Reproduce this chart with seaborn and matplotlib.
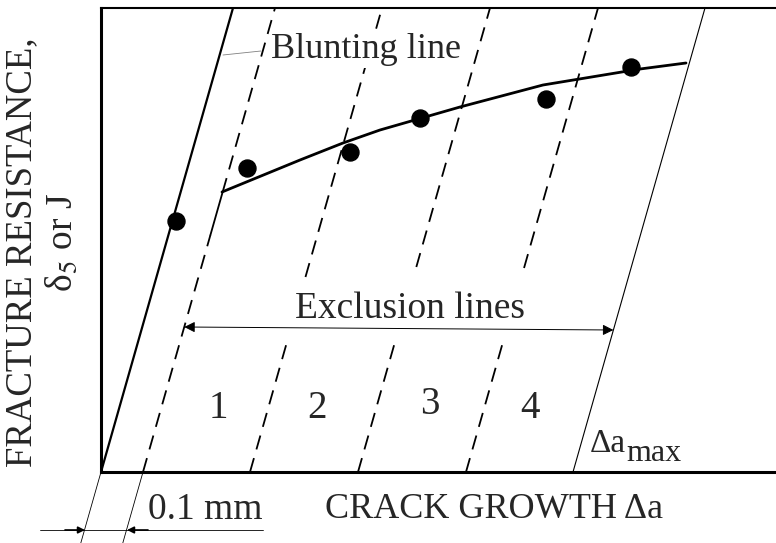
import numpy as np
import seaborn as sns
import matplotlib.pyplot as plt
import pandas as pd

# schematic units: x = crack growth, y = resistance (origin at axes corner)
slope = 132 / 464                     # blunting line dx/dy
excl_offsets = [42, 149, 257, 365]    # exclusion lines, offset along x
da_max = 472                          # last exclusion line (delta a max)

curve_x = [121, 199, 242, 279, 359, 442, 539, 585]
curve_y = [280, 312, 329, 342, 365, 387, 403, 409]

points_x = [75, 146, 249, 319, 445, 530]
points_y = [251, 304, 320, 354, 373, 405]

region_labels = ['1', '2', '3', '4']
region_x = [117, 216, 329, 429]
region_y = [64, 64, 67, 64]

sns.set_theme(style="white")
plt.rcParams['font.family'] = ['Liberation Serif', 'DejaVu Serif']
plt.rcParams['mathtext.fontset'] = 'stix'

fig = plt.figure(figsize=(7.76, 5.43), dpi=100)
ax = fig.add_axes([101/776, 71/543, 675/776, 464/543])
ax.set_xlim(0, 675)
ax.set_ylim(0, 464)

def lx(off, y):
    return off + slope * np.asarray(y)

# blunting line
yy = np.array([0, 464])
ax.plot(lx(0, yy), yy, color='black', lw=1.6, zorder=3)

dash = (0, (8, 5))
# first exclusion line (0.1 mm offset)
for y0, y1, ls in [(0, 237, dash), (237, 280, '-'), (280, 464, dash)]:
    yy = np.array([y0, y1])
    ax.plot(lx(excl_offsets[0], yy), yy, color='black', lw=1.3, linestyle=ls)

# other exclusion lines, broken around the label
for off, ytop in zip(excl_offsets[1:], [195, 205, 204]):
    for y0, y1 in [(0, 134), (ytop, 464)]:
        yy = np.array([y0, y1])
        ax.plot(lx(off, yy), yy, color='black', lw=1.3, linestyle=dash)

# delta a max line
yy = np.array([0, 464])
ax.plot(lx(da_max, yy), yy, color='black', lw=0.8)

# R-curve and data points
df_curve = pd.DataFrame({'x': curve_x, 'y': curve_y})
df_pts = pd.DataFrame({'x': points_x, 'y': points_y})
sns.lineplot(data=df_curve, x='x', y='y', sort=False, color='black', lw=2, ax=ax)
sns.scatterplot(data=df_pts, x='x', y='y', color='black', s=150, edgecolor='black', zorder=5, ax=ax)

# labels inside
ax.text(265, 422, 'Blunting line', fontsize=26, ha='center', va='center',
        bbox=dict(facecolor='white', edgecolor='none', pad=1), zorder=4)
ax.plot([122, 160], [417, 421], color='gray', lw=0.6)
ax.text(309, 163, 'Exclusion lines', fontsize=27, ha='center', va='center')
for lab, x, y in zip(region_labels, region_x, region_y):
    ax.text(x, y, lab, fontsize=28, ha='center', va='center')
ax.text(489, 20, 'Δa', fontsize=24, ha='left', va='baseline')
ax.text(525, 11, 'max', fontsize=23, ha='left', va='baseline')

# exclusion arrow
ax.annotate('', xy=(lx(excl_offsets[0], 145), 145), xytext=(lx(da_max, 142), 142),
            arrowprops=dict(arrowstyle='<|-|>', lw=0.7, color='black', mutation_scale=16,
                            shrinkA=0, shrinkB=0))

# 0.1 mm dimension below the axis
for off in [0, excl_offsets[0]]:
    yy = np.array([0, -71])
    ax.plot(lx(off, yy), yy, color='black', lw=0.6, clip_on=False)
ax.plot([-61, 162], [-58, -58], color='black', lw=0.6, clip_on=False)
ax.annotate('', xy=(-16, -58), xytext=(-36, -58), annotation_clip=False,
            arrowprops=dict(arrowstyle='-|>', lw=1.2, color='black', mutation_scale=10,
                            shrinkA=0, shrinkB=0))
ax.annotate('', xy=(26, -58), xytext=(47, -58), annotation_clip=False,
            arrowprops=dict(arrowstyle='-|>', lw=1.2, color='black', mutation_scale=10,
                            shrinkA=0, shrinkB=0))
ax.text(104, -38, '0.1 mm', fontsize=27, ha='center', va='center', clip_on=False)
ax.text(393, -38, 'CRACK GROWTH Δa', fontsize=26, ha='center', va='center', clip_on=False)

# y label (two lines)
fig.text(22/776, 1 - 252/543, 'FRACTURE RESISTANCE,', fontsize=26.5, rotation=90,
         ha='center', va='center')
fig.text(62/776, 1 - 243/543, 'δ$_5$ or J', fontsize=27, rotation=90,
         ha='center', va='center')

ax.set_xlabel('')
ax.set_ylabel('')
ax.set_xticks([])
ax.set_yticks([])
sns.despine(ax=ax, right=True, top=False)
for side, w in [('left', 2.2), ('bottom', 2.2), ('top', 1.5)]:
    ax.spines[side].set_color('black')
    ax.spines[side].set_linewidth(w)

fig.savefig('out.png', dpi=100)
